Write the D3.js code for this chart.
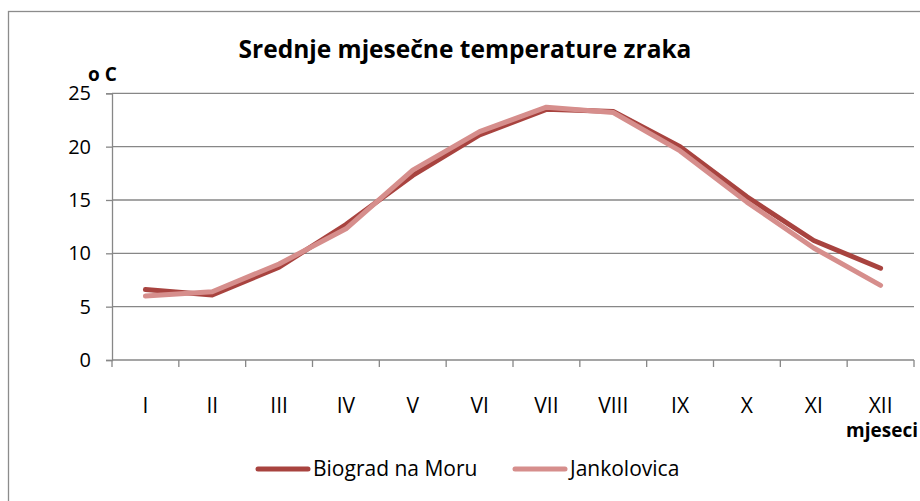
<!DOCTYPE html>
<html>
<head>
<meta charset="utf-8">
<script src="https://cdn.jsdelivr.net/npm/d3@7"></script>
<style>
  body { margin: 0; background: #fff; }
  text { font-family: "Open Sans", sans-serif; fill: #000; }
</style>
</head>
<body>
<div id="chart"></div>
<script>
const months = ['I', 'II', 'III', 'IV', 'V', 'VI', 'VII', 'VIII', 'IX', 'X', 'XI', 'XII'];
const biograd = [6.6, 6.1, 8.7, 12.7, 17.3, 21.1, 23.5, 23.3, 20.0, 15.3, 11.2, 8.6];
const jankolovica = [6.0, 6.4, 9.0, 12.3, 17.8, 21.4, 23.7, 23.2, 19.6, 14.8, 10.5, 7.0];
const yTicks = [0, 5, 10, 15, 20, 25];

const width = 920;
const height = 501;
const darkColor = '#A8433F';
const lightColor = '#D68E8C';
const gridColor = '#878787';

const svg = d3.select('#chart').append('svg')
  .attr('width', width).attr('height', height);

// outer frame
svg.append('rect')
  .attr('x', 8.5).attr('y', 11.5)
  .attr('width', 930).attr('height', 520)
  .attr('fill', 'none').attr('stroke', '#8c8c8c').attr('stroke-width', 1.3);

const x = d3.scaleBand().domain(months).range([112, 914]);
const y = d3.scaleLinear().domain([0, 25]).range([360, 93.3]);

// gridlines
svg.append('g')
  .selectAll('line')
  .data(yTicks.slice(1))
  .join('line')
  .attr('x1', 112).attr('x2', 914)
  .attr('y1', d => y(d)).attr('y2', d => y(d))
  .attr('stroke', gridColor).attr('stroke-width', 1.3);

// y axis
const yAxis = svg.append('g')
  .attr('transform', 'translate(112,0)')
  .call(d3.axisLeft(y).tickValues(yTicks).tickSize(6).tickPadding(15));
yAxis.selectAll('path, line').attr('stroke', gridColor).attr('stroke-width', 1.3);
yAxis.selectAll('text').attr('font-size', 20).attr('font-family', '"Open Sans", sans-serif').attr('fill', '#000');

// x axis with ticks at band edges
const xAxis = svg.append('g').attr('transform', 'translate(0,360)');
xAxis.append('line')
  .attr('x1', 112).attr('x2', 914)
  .attr('stroke', gridColor).attr('stroke-width', 1.3);
const edges = months.map(m => x(m)).concat([x.range()[1]]);
xAxis.selectAll('.tick')
  .data(edges)
  .join('line')
  .attr('x1', d => d).attr('x2', d => d)
  .attr('y1', 0).attr('y2', 7)
  .attr('stroke', gridColor).attr('stroke-width', 1.3);
xAxis.selectAll('text')
  .data(months)
  .join('text')
  .attr('x', d => x(d) + x.bandwidth() / 2)
  .attr('y', 53)
  .attr('text-anchor', 'middle')
  .attr('font-size', 21)
  .text(d => d);

// lines
const line = d3.line()
  .x((d, i) => x(months[i]) + x.bandwidth() / 2)
  .y(d => y(d));

svg.append('path')
  .attr('d', line(biograd))
  .attr('fill', 'none').attr('stroke', darkColor)
  .attr('stroke-width', 5).attr('stroke-linecap', 'round').attr('stroke-linejoin', 'round');

svg.append('path')
  .attr('d', line(jankolovica))
  .attr('fill', 'none').attr('stroke', lightColor)
  .attr('stroke-width', 5).attr('stroke-linecap', 'round').attr('stroke-linejoin', 'round');

// title and axis labels
svg.append('text')
  .attr('x', 465).attr('y', 58)
  .attr('text-anchor', 'middle')
  .attr('font-size', 24.5).attr('font-weight', 'bold')
  .text('Srednje mjesečne temperature zraka');

svg.append('text')
  .attr('x', 88).attr('y', 81)
  .attr('font-size', 19).attr('font-weight', 'bold')
  .text('o C');

svg.append('text')
  .attr('x', 918).attr('y', 437)
  .attr('text-anchor', 'end')
  .attr('font-size', 19).attr('font-weight', 'bold')
  .text('mjeseci');

// legend
const legendItems = [
  { name: 'Biograd na Moru', color: darkColor, x: 258 },
  { name: 'Jankolovica', color: lightColor, x: 515 }
];
const legend = svg.append('g').selectAll('g')
  .data(legendItems)
  .join('g')
  .attr('transform', d => `translate(${d.x},469)`);
legend.append('line')
  .attr('x1', 0).attr('x2', 50)
  .attr('stroke', d => d.color).attr('stroke-width', 5).attr('stroke-linecap', 'round');
legend.append('text')
  .attr('x', 55).attr('y', 7)
  .attr('font-size', 21)
  .text(d => d.name);
</script>
</body>
</html>
